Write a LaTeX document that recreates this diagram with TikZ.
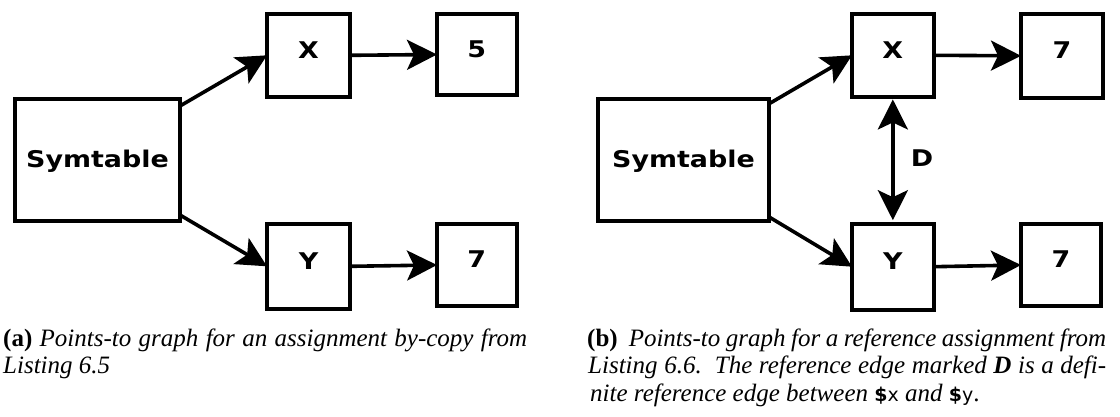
\documentclass[tikz,border=0pt]{standalone}
\usepackage{fontspec}
\usepackage{graphicx}
\setmainfont{Liberation Serif}
\newfontfamily\dvs{DejaVu Sans}
\newfontfamily\dvsw[FakeStretch=1.17]{DejaVu Sans}
\usetikzlibrary{arrows.meta}
\tikzset{
  box/.style={draw, line width=4pt, inner sep=0pt, outer sep=0pt,
    font=\dvsw\bfseries\fontsize{23}{28}\selectfont, text height=16.7pt, text depth=11pt},
  symbox/.style={box, text height=16.7pt, text depth=2pt},
  tip/.tip={Stealth[length=30pt,width=30pt,inset=7pt]},
  arr/.style={line width=3.6pt, -tip},
  darr/.style={line width=3.6pt, tip-tip, shorten <=2.5pt, shorten >=3.5pt},
  captxt/.style={anchor=base west, inner sep=0pt, font=\fontsize{25}{27.5}\selectfont},
  lab/.style={inner sep=0pt, font=\dvsw\bfseries\fontsize{23}{28}\selectfont}
}
\begin{document}
\begin{tikzpicture}[x=1pt,y=-1pt]
\useasboundingbox (0,0) rectangle (1120,416);
% panel (a)
\node[symbox, minimum width=165pt, minimum height=122pt] (symA) at (97.5,159.7) {Symtable};
\node[box, minimum width=83pt, minimum height=83.3pt] (xA) at (308.5,55.3) {X};
\node[box, minimum width=79.6pt, minimum height=81.6pt] (fiveA) at (476.8,54.5) {5};
\node[box, minimum width=83pt, minimum height=85.3pt] (yA) at (308.5,266.3) {Y};
\node[box, minimum width=79.6pt, minimum height=82.6pt] (sevenA) at (476.8,265) {7};
\draw[arr] ([yshift=-7.3pt]symA.north east) -- (xA.west);
\draw[arr] ([yshift=5.7pt]symA.south east) -- (yA.west);
\draw[arr] (xA.east) -- (fiveA.west);
\draw[arr] (yA.east) -- (sevenA.west);
% panel (b)
\node[symbox, minimum width=170.3pt, minimum height=122pt] (symB) at (683.5,159.7) {Symtable};
\node[box, minimum width=81.7pt, minimum height=83.3pt] (xB) at (892.85,55.3) {X};
\node[box, minimum width=82pt, minimum height=84.3pt] (sevenB1) at (1062,55.8) {7};
\node[box, minimum width=81.7pt, minimum height=86pt] (yB) at (892.85,266.7) {Y};
\node[box, minimum width=80pt, minimum height=82.6pt] (sevenB2) at (1061,265) {7};
\draw[arr] ([yshift=-5.3pt]symB.north east) -- (xB.west);
\draw[arr] ([yshift=4pt]symB.south east) -- (yB.west);
\draw[arr] (xB.east) -- (sevenB1.west);
\draw[arr] (yB.east) -- (sevenB2.west);
\draw[darr] (xB.south) -- (yB.north);
\node[lab] (dlab) at (922,158) {D};
% captions
\node[captxt] (capA1) at (3,346) {\makebox[524pt][s]{\textbf{(a)} \textit{Points-to graph for an assignment by-copy from}}};
\node[captxt] (capA2) at (3,373.5) {\textit{Listing 6.5}};
\node[captxt] (capB1) at (587,346) {\makebox[519pt][s]{\textbf{(b)}\ \ \textit{Points-to graph for a reference assignment from}}};
\node[captxt] (capB2) at (588,373.5) {\makebox[518pt][s]{\textit{Listing 6.6.\ \ The reference edge marked \textbf{D} is a defi-}}};
\node[captxt] (capB3) at (590,401) {\textit{nite reference edge between} {\dvs\fontsize{19}{24}\selectfont\textbf{\$}x} \textit{and} {\dvs\fontsize{19}{24}\selectfont\textbf{\$}y}.};
\end{tikzpicture}
\end{document}
